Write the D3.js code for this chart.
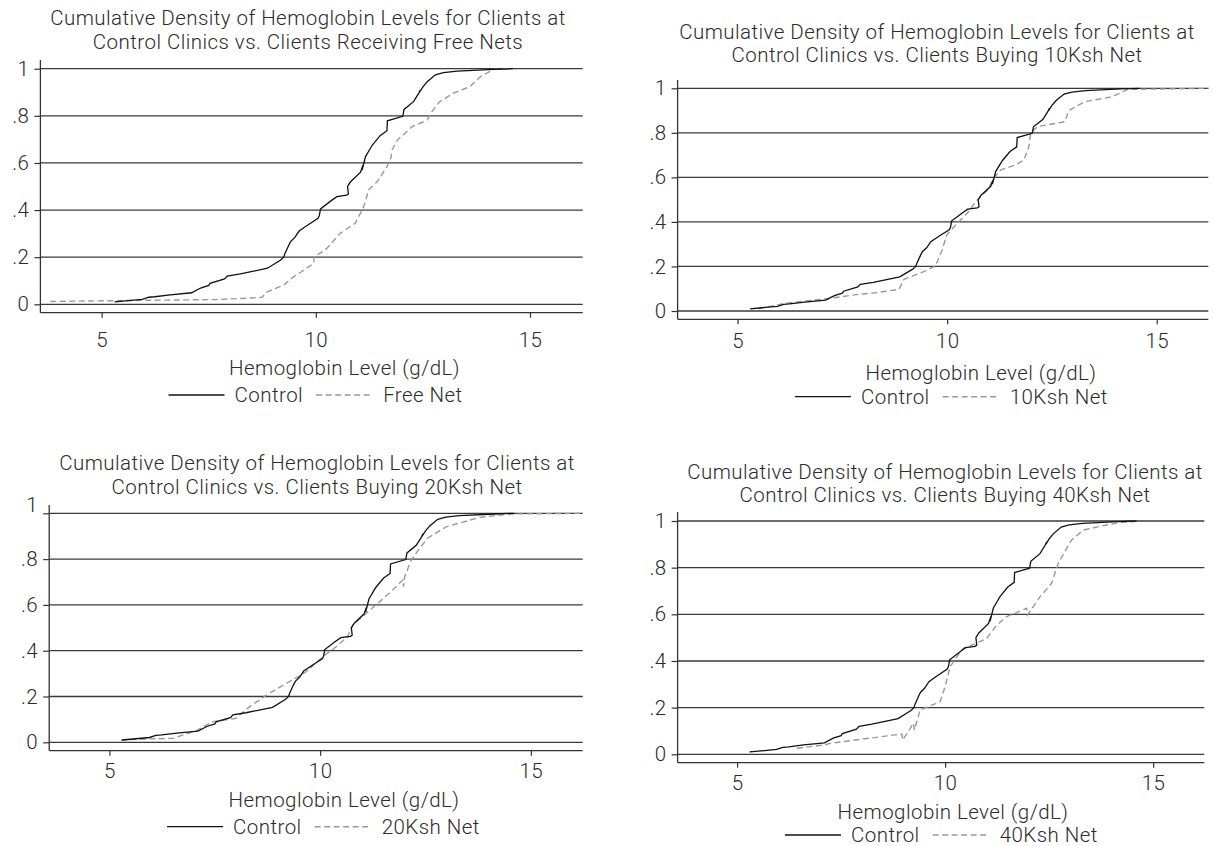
<!DOCTYPE html>
<html>
<head>
<meta charset="utf-8">
<script src="https://cdn.jsdelivr.net/npm/d3@7"></script>
<style>
  body { margin: 0; background: #fff; }
  svg { display: block; font-family: Roboto, "Liberation Sans", sans-serif; }
  text { letter-spacing: 0.45px; }
</style>
</head>
<body>
<svg id="chart" width="1214" height="846"></svg>
<script>
// axis ticks
const yTicks = [0, 0.2, 0.4, 0.6, 0.8, 1];
const yTickLabels = ["0", ".2", ".4", ".6", ".8", "1"];
const xTicks = [5, 10, 15];
const xDomain = [3.57, 16.23];

// control clinics (same curve in every panel)
const controlX = [5.3, 5.95, 6.1, 6.24, 6.6, 7.1, 7.31, 7.5, 7.53, 7.87, 7.93, 8.24, 8.87, 9.18, 9.25, 9.28, 9.37, 9.41, 9.51, 9.61, 9.76, 9.84, 10.05, 10.08, 10.11, 10.36, 10.49, 10.72, 10.76, 10.74, 10.81, 11.04, 11.1, 11.08, 11.16, 11.25, 11.32, 11.5, 11.66, 11.67, 12.03, 12.06, 12.28, 12.4, 12.44, 12.42, 12.5, 12.6, 12.79, 12.98, 13.3, 14.15, 14.6];
const controlY = [0.01, 0.021, 0.03, 0.032, 0.04, 0.049, 0.069, 0.08, 0.089, 0.108, 0.12, 0.129, 0.153, 0.188, 0.2, 0.216, 0.252, 0.266, 0.284, 0.311, 0.33, 0.34, 0.365, 0.376, 0.405, 0.44, 0.457, 0.463, 0.468, 0.5, 0.52, 0.56, 0.59, 0.57, 0.627, 0.655, 0.676, 0.716, 0.737, 0.779, 0.798, 0.827, 0.86, 0.895, 0.91, 0.9, 0.923, 0.945, 0.974, 0.983, 0.99, 0.997, 1.0];

// treatment groups
const freeX = [3.8, 6.0, 7.67, 8.5, 8.75, 8.83, 9.25, 9.48, 9.64, 9.95, 9.96, 10.22, 10.57, 10.92, 11.04, 11.13, 11.23, 11.43, 11.66, 11.75, 11.78, 11.9, 12.25, 12.6, 12.71, 12.89, 13.21, 13.6, 13.84, 14.15, 14.55];
const freeY = [0.012, 0.017, 0.02, 0.027, 0.03, 0.05, 0.082, 0.117, 0.135, 0.174, 0.202, 0.23, 0.301, 0.344, 0.386, 0.42, 0.485, 0.52, 0.584, 0.62, 0.655, 0.697, 0.754, 0.782, 0.818, 0.86, 0.896, 0.924, 0.966, 0.997, 1.0];

const net10X = [5.5, 6.14, 7.08, 7.93, 8.3, 8.85, 8.97, 9.44, 9.72, 9.88, 9.99, 10.24, 10.48, 10.68, 10.96, 11.11, 11.27, 11.63, 11.83, 11.95, 11.99, 12.15, 12.81, 12.9, 13.28, 13.94, 14.31, 16.24];
const net10Y = [0.01, 0.035, 0.054, 0.076, 0.082, 0.097, 0.142, 0.177, 0.202, 0.274, 0.341, 0.394, 0.439, 0.491, 0.543, 0.596, 0.633, 0.656, 0.678, 0.738, 0.798, 0.828, 0.85, 0.9, 0.94, 0.962, 0.995, 1.0];

const net20X = [5.27, 5.94, 6.5, 7.05, 7.45, 7.84, 8.0, 8.23, 8.32, 8.79, 9.27, 9.67, 10.06, 10.38, 10.65, 10.77, 11.09, 11.41, 11.72, 11.96, 11.98, 12.0, 12.16, 12.36, 12.55, 12.99, 13.78, 14.5, 16.24];
const net20Y = [0.01, 0.015, 0.017, 0.05, 0.09, 0.1, 0.105, 0.141, 0.155, 0.214, 0.265, 0.308, 0.374, 0.417, 0.461, 0.512, 0.563, 0.614, 0.665, 0.709, 0.68, 0.72, 0.796, 0.847, 0.891, 0.941, 0.982, 0.997, 1.0];

const net40X = [6.44, 7.1, 7.23, 8.96, 8.98, 9.24, 9.26, 9.4, 9.88, 10.0, 10.12, 10.28, 10.44, 10.76, 11.0, 11.24, 11.48, 11.96, 11.98, 12.28, 12.56, 12.72, 12.76, 13.04, 13.32, 13.88, 14.2, 14.65];
const net40Y = [0.026, 0.04, 0.047, 0.087, 0.061, 0.133, 0.104, 0.19, 0.225, 0.29, 0.375, 0.418, 0.454, 0.476, 0.497, 0.554, 0.59, 0.626, 0.597, 0.675, 0.733, 0.819, 0.833, 0.919, 0.961, 0.983, 0.993, 1.0];

const groupNames = ["Free Net", "10Ksh Net", "20Ksh Net", "40Ksh Net"];
const groupX = [freeX, net10X, net20X, net40X];
const groupY = [freeY, net10Y, net20Y, net40Y];
const titleLine1 = "Cumulative Density of Hemoglobin Levels for Clients at";
const titleLine2 = [
  "Control Clinics vs. Clients Receiving Free Nets",
  "Control Clinics vs. Clients Buying 10Ksh Net",
  "Control Clinics vs. Clients Buying 20Ksh Net",
  "Control Clinics vs. Clients Buying 40Ksh Net"
];
const axisTitle = "Hemoglobin Level (g/dL)";

// where each panel sits on the page
const panels = [
  { x0: 40.4, x1: 582.7, y1: 68.7, y0: 304.3, axisB: 312.7, axisTop: 60, t1: 18, t2: 42, tcx: 308, tickPad: 15, atY: 368, atX: 344.5, legY: 395, legX: 168.5, topShift: 0 },
  { x0: 677.6, x1: 1208.3, y1: 88.3, y0: 311, axisB: 319.3, axisTop: 80, t1: 31.7, t2: 55, tcx: 937, tickPad: 9, atY: 372.7, atX: 981, legY: 396.7, legX: 795, topShift: 0 },
  { x0: 49.2, x1: 582.7, y1: 513.3, y0: 742.3, axisB: 750.7, axisTop: 505, t1: 463.3, t2: 486.7, tcx: 317, tickPad: 7.6, atY: 800, atX: 344, legY: 826.7, legX: 167, topShift: -8 },
  { x0: 677.6, x1: 1204.3, y1: 521, y0: 754.3, axisB: 762.7, axisTop: 512, t1: 471.7, t2: 495, tcx: 945, tickPad: 7.3, atY: 811.7, atX: 953, legY: 835, legX: 785, topShift: 0 }
];

const textColor = "#2b2b2b";
const fontSize = 20.5;
const fontFam = "Roboto, 'Liberation Sans', sans-serif";
const svg = d3.select("#chart");

panels.forEach((p, i) => {
  const g = svg.append("g");
  const x = d3.scaleLinear().domain(xDomain).range([p.x0, p.x1]);
  const y = d3.scaleLinear().domain([0, 1]).range([p.y0, p.y1]);

  /** titles */
  [[p.t1, titleLine1], [p.t2, titleLine2[i]]].forEach(([ty, txt]) => {
    g.append("text").attr("x", p.tcx).attr("y", ty).attr("dy", "0.35em")
      .attr("text-anchor", "middle").attr("font-size", fontSize).attr("fill", textColor)
      .attr("font-weight", 300).text(txt);
  });

  /** y axis with gridlines */
  const yAxis = g.append("g").attr("transform", `translate(${p.x0},0)`)
    .call(d3.axisLeft(y).tickValues(yTicks).tickFormat((d, k) => yTickLabels[k])
      .tickSize(6).tickPadding(5).tickSizeOuter(0));
  yAxis.select(".domain").remove();
  yAxis.selectAll("line").attr("stroke", "#333").attr("stroke-width", 1.2);
  yAxis.selectAll("text").attr("font-size", fontSize).attr("fill", textColor)
    .attr("font-family", fontFam).attr("font-weight", 300)
    .attr("transform", (d) => (d === 1 ? `translate(0,${p.topShift})` : null));

  g.selectAll(".grid").data(yTicks).enter().append("line")
    .attr("x1", p.x0).attr("x2", p.x1)
    .attr("y1", (d) => y(d)).attr("y2", (d) => y(d))
    .attr("stroke", "#3a3a3a").attr("stroke-width", 1.3);

  /** x axis */
  const xAxis = g.append("g").attr("transform", `translate(0,${p.axisB})`)
    .call(d3.axisBottom(x).tickValues(xTicks).tickSize(5).tickPadding(p.tickPad).tickSizeOuter(0));
  xAxis.select(".domain").remove();
  xAxis.selectAll("line").attr("stroke", "#333").attr("stroke-width", 1.2);
  xAxis.selectAll("text").attr("font-size", fontSize).attr("fill", textColor)
    .attr("font-family", fontFam).attr("font-weight", 300);

  g.append("line").attr("x1", p.x0).attr("x2", p.x1).attr("y1", p.axisB).attr("y2", p.axisB)
    .attr("stroke", "#333").attr("stroke-width", 1.3);
  g.append("line").attr("x1", p.x0).attr("x2", p.x0).attr("y1", p.axisTop).attr("y2", p.axisB)
    .attr("stroke", "#333").attr("stroke-width", 1.3);

  /** curves */
  const line = d3.line().x((d) => x(d[0])).y((d) => y(d[1]));
  g.append("path").datum(d3.zip(groupX[i], groupY[i])).attr("d", line)
    .attr("fill", "none").attr("stroke", "#999").attr("stroke-width", 1.4)
    .attr("stroke-dasharray", "6,3.5");
  g.append("path").datum(d3.zip(controlX, controlY)).attr("d", line)
    .attr("fill", "none").attr("stroke", "#111").attr("stroke-width", 1.3);

  /** axis title */
  g.append("text").attr("x", p.atX).attr("y", p.atY).attr("dy", "0.35em")
    .attr("text-anchor", "middle").attr("font-size", fontSize).attr("fill", textColor)
    .attr("font-weight", 300).text(axisTitle);

  /** legend */
  const leg = g.append("g");
  leg.append("line").attr("x1", p.legX).attr("x2", p.legX + 56)
    .attr("y1", p.legY).attr("y2", p.legY).attr("stroke", "#111").attr("stroke-width", 1.3);
  const ctl = leg.append("text").attr("x", p.legX + 66).attr("y", p.legY).attr("dy", "0.35em")
    .attr("font-size", fontSize).attr("fill", textColor).attr("font-weight", 300).text("Control");
  const dStart = p.legX + 66 + ctl.node().getComputedTextLength() + 13;
  leg.append("line").attr("x1", dStart).attr("x2", dStart + 57)
    .attr("y1", p.legY).attr("y2", p.legY).attr("stroke", "#999").attr("stroke-width", 1.4)
    .attr("stroke-dasharray", "6,3.5");
  leg.append("text").attr("x", dStart + 67).attr("y", p.legY).attr("dy", "0.35em")
    .attr("font-size", fontSize).attr("fill", textColor).attr("font-weight", 300).text(groupNames[i]);
});
</script>
</body>
</html>
